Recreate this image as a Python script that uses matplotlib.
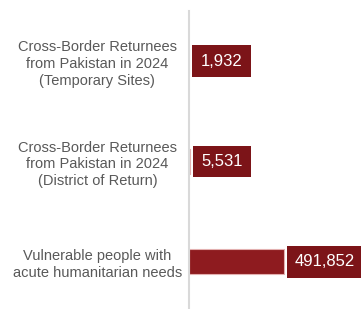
import matplotlib
matplotlib.use("Agg")
import matplotlib.pyplot as plt

plt.rcParams['font.family'] = ['Liberation Sans', 'DejaVu Sans']

# categories and values
categorias = ['Cross-Border Returnees\nfrom Pakistan in 2024\n(Temporary Sites)',
              'Cross-Border Returnees\nfrom Pakistan in 2024\n(District of Return)',
              'Vulnerable people with\nacute humanitarian needs']
valores = [1932, 5531, 491852]

fig = plt.figure(figsize=(3.61, 3.09), dpi=100)
ax = fig.add_axes([189 / 361, 0, 172 / 361, 298 / 309])

posicoes = list(range(len(valores)))
ax.barh(posicoes, valores, height=0.25, color='#8e1b1f', edgecolor='#e3b0b0', linewidth=0.8)

# labels with dark red box
for p, v in zip(posicoes, valores):
    ax.annotate(f'{v:,}', xy=(v, p), xytext=(8, 0), textcoords='offset points',
                ha='left', va='center', color='white', fontsize=12,
                bbox=dict(boxstyle='square,pad=0.5', fc='#7c1418', ec='none'),
                annotation_clip=False, clip_on=False)

ax.set_xlim(0, 890500)
ax.set_ylim(2.47, -0.5)
ax.set_yticks(posicoes)
ax.set_yticklabels(categorias, fontsize=10.5, color='#595959', ha='center',
                   multialignment='center', linespacing=1.25)
ax.tick_params(axis='y', length=0, pad=66)
ax.set_xticks([])

for lado in ['top', 'right', 'bottom']:
    ax.spines[lado].set_visible(False)
ax.spines['left'].set_color('#d9d9d9')
ax.spines['left'].set_linewidth(1.5)
ax.patch.set_alpha(0)

fig.savefig('out.png', dpi=100)
